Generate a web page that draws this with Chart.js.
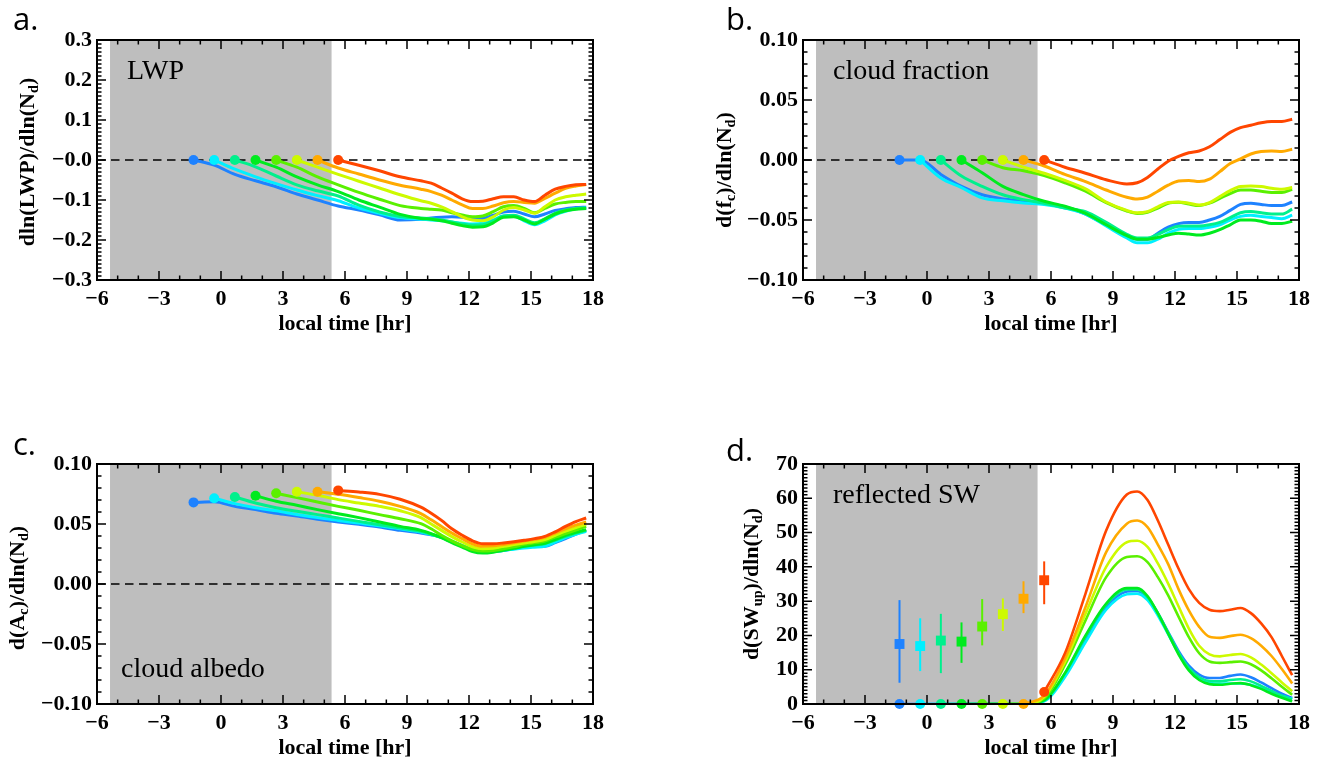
<!DOCTYPE html>
<html lang="en">
<head>
<meta charset="UTF-8">
<title>Diurnal cloud susceptibilities</title>
<script src="https://cdn.jsdelivr.net/npm/chart.js"></script>
<style>
  * { margin: 0; padding: 0; box-sizing: border-box; }
  body { width: 1323px; height: 763px; background: #fff; position: relative; overflow: hidden; }
  canvas { position: absolute; }
  .letter { position: absolute; font-family: 'Open Sans', sans-serif; font-size: 31px; line-height: normal; color: #000; }
  .inset { position: absolute; font-family: 'Liberation Serif', 'Times New Roman', serif; font-size: 28px; line-height: normal; white-space: nowrap; color: #000; }
  .ytitle { position: absolute; font-family: 'Liberation Serif', 'Times New Roman', serif; font-weight: bold; font-size: 22px;
            line-height: 1; white-space: nowrap; transform: translate(-50%, -50%) rotate(-90deg); color: #000; }
  .ytitle sub { font-size: 0.65em; vertical-align: -0.3em; line-height: 0; }
</style>
</head>
<body>
  <canvas id="chartA" width="617" height="339" style="left:0;top:0"></canvas>
  <canvas id="chartB" width="617" height="339" style="left:706px;top:0"></canvas>
  <canvas id="chartC" width="617" height="339" style="left:0;top:424px"></canvas>
  <canvas id="chartD" width="617" height="339" style="left:706px;top:424px"></canvas>

  <div class="letter" style="left:13px;top:-3px">a.</div>
  <div class="letter" style="left:726px;top:-3px">b.</div>
  <div class="letter" style="left:13px;top:422px">c.</div>
  <div class="letter" style="left:726px;top:428px">d.</div>

  <div class="inset" style="left:127px;top:54px">LWP</div>
  <div class="inset" style="left:833px;top:54px">cloud fraction</div>
  <div class="inset" style="left:121px;top:652px">cloud albedo</div>
  <div class="inset" style="left:833px;top:478px">reflected SW</div>

  <div class="ytitle" style="left:27px;top:162px">dln(LWP)/dln(N<sub>d</sub>)</div>
  <div class="ytitle" style="left:724px;top:170px">d(f<sub>c</sub>)/dln(N<sub>d</sub>)</div>
  <div class="ytitle" style="left:17px;top:588px">d(A<sub>c</sub>)/dln(N<sub>d</sub>)</div>
  <div class="ytitle" style="left:751px;top:584px">d(SW<sub>up</sub>)/dln(N<sub>d</sub>)</div>

<script>
// local time grid [hr]; the 8 trajectories start at the first 8 entries
const hours = [-1.33, -0.33, 0.67, 1.67, 2.67, 3.67, 4.67, 5.67, 6.67, 7.67, 8.67, 9.67,
  10.17, 10.67, 11.17, 11.67, 12.17, 12.67, 13.17, 13.67, 14.17, 14.67, 15.17, 15.67, 16.17, 16.67, 17.17, 17.67];
const startHours = [-1.33, -0.33, 0.67, 1.67, 2.67, 3.67, 4.67, 5.67];
const night = [-5.37, 5.35];

const xTicks = [-6, -3, 0, 3, 6, 9, 12, 15, 18];
const xTickLabels = ['−6', '−3', '0', '3', '6', '9', '12', '15', '18'];
const lwpTicks = [-0.3, -0.2, -0.1, 0, 0.1, 0.2, 0.3];
const lwpTickLabels = ['−0.3', '−0.2', '−0.1', '−0.0', '0.1', '0.2', '0.3'];
const fracTicks = [-0.1, -0.05, 0, 0.05, 0.1];
const fracTickLabels = ['−0.10', '−0.05', '0.00', '0.05', '0.10'];
const swTicks = [0, 10, 20, 30, 40, 50, 60, 70];
const swTickLabels = ['0', '10', '20', '30', '40', '50', '60', '70'];

const n = null;
// rows: blue, cyan, spring green, green, lime, yellow-green, orange, red
const lwpRows = [
  [0, -0.013, -0.036, -0.052, -0.067, -0.085, -0.1, -0.115, -0.125, -0.137, -0.15, -0.148, -0.145, -0.143, -0.142, -0.143, -0.147, -0.146, -0.138, -0.13, -0.128, -0.135, -0.142, -0.135, -0.126, -0.122, -0.119, -0.118],
  [n, 0, -0.023, -0.042, -0.059, -0.075, -0.089, -0.102, -0.12, -0.133, -0.144, -0.148, -0.15, -0.152, -0.155, -0.158, -0.16, -0.158, -0.15, -0.14, -0.14, -0.152, -0.162, -0.152, -0.137, -0.128, -0.122, -0.12],
  [n, n, 0, -0.017, -0.04, -0.062, -0.077, -0.09, -0.113, -0.13, -0.141, -0.145, -0.147, -0.15, -0.155, -0.16, -0.163, -0.162, -0.152, -0.14, -0.138, -0.147, -0.157, -0.147, -0.133, -0.125, -0.121, -0.12],
  [n, n, n, 0, -0.018, -0.042, -0.062, -0.079, -0.1, -0.118, -0.136, -0.146, -0.148, -0.152, -0.158, -0.164, -0.168, -0.167, -0.157, -0.143, -0.142, -0.15, -0.16, -0.148, -0.135, -0.127, -0.123, -0.121],
  [n, n, n, n, 0, -0.018, -0.042, -0.062, -0.081, -0.098, -0.114, -0.121, -0.123, -0.125, -0.132, -0.1375, -0.142, -0.14, -0.129, -0.117, -0.114, -0.121, -0.132, -0.121, -0.11, -0.106, -0.104, -0.104],
  [n, n, n, n, n, 0, -0.018, -0.036, -0.053, -0.07, -0.087, -0.102, -0.108, -0.117, -0.129, -0.142, -0.15, -0.152, -0.142, -0.125, -0.119, -0.125, -0.133, -0.117, -0.1, -0.092, -0.088, -0.085],
  [n, n, n, n, n, n, 0, -0.02, -0.035, -0.05, -0.063, -0.073, -0.079, -0.088, -0.1, -0.112, -0.121, -0.121, -0.115, -0.107, -0.104, -0.106, -0.108, -0.096, -0.083, -0.071, -0.065, -0.061],
  [n, n, n, n, n, n, n, 0, -0.013, -0.027, -0.042, -0.052, -0.058, -0.07, -0.083, -0.097, -0.104, -0.103, -0.097, -0.092, -0.092, -0.1, -0.104, -0.088, -0.073, -0.066, -0.062, -0.061]
];
const fracRows = [
  [0, 0, -0.012, -0.022, -0.029, -0.0324, -0.034, -0.036, -0.039, -0.045, -0.054, -0.063, -0.066, -0.066, -0.061, -0.056, -0.053, -0.052, -0.052, -0.05, -0.047, -0.042, -0.037, -0.036, -0.037, -0.038, -0.038, -0.035],
  [n, 0, -0.015, -0.023, -0.0316, -0.034, -0.0358, -0.037, -0.04, -0.045, -0.055, -0.065, -0.069, -0.069, -0.066, -0.061, -0.0578, -0.057, -0.057, -0.056, -0.054, -0.05, -0.047, -0.046, -0.047, -0.048, -0.049, -0.046],
  [n, n, 0, -0.0134, -0.022, -0.029, -0.033, -0.036, -0.04, -0.043, -0.052, -0.062, -0.065, -0.065, -0.062, -0.058, -0.0553, -0.055, -0.055, -0.054, -0.052, -0.048, -0.044, -0.043, -0.044, -0.045, -0.045, -0.041],
  [n, n, n, 0, -0.0106, -0.022, -0.0288, -0.0344, -0.0385, -0.0445, -0.054, -0.063, -0.066, -0.066, -0.0645, -0.0625, -0.061, -0.0617, -0.0625, -0.061, -0.058, -0.054, -0.05, -0.05, -0.051, -0.053, -0.053, -0.051],
  [n, n, n, n, 0, -0.0064, -0.009, -0.013, -0.019, -0.026, -0.0355, -0.0425, -0.0445, -0.0435, -0.04, -0.036, -0.0353, -0.0367, -0.038, -0.036, -0.032, -0.028, -0.025, -0.025, -0.026, -0.027, -0.027, -0.0245],
  [n, n, n, n, n, 0, -0.006, -0.011, -0.017, -0.024, -0.035, -0.042, -0.044, -0.043, -0.039, -0.0355, -0.035, -0.036, -0.0375, -0.0355, -0.0305, -0.0255, -0.022, -0.0217, -0.022, -0.0236, -0.0244, -0.023],
  [n, n, n, n, n, n, 0, -0.005, -0.012, -0.018, -0.025, -0.031, -0.0325, -0.031, -0.026, -0.021, -0.0175, -0.017, -0.018, -0.016, -0.0097, -0.003, 0.001, 0.005, 0.007, 0.0075, 0.007, 0.009],
  [n, n, n, n, n, n, n, 0, -0.006, -0.011, -0.0165, -0.02, -0.019, -0.0145, -0.0075, -0.001, 0.003, 0.006, 0.0075, 0.011, 0.017, 0.023, 0.027, 0.029, 0.031, 0.032, 0.032, 0.034]
];
const albedoRows = [
  [0.068, 0.0685, 0.0647, 0.062, 0.059, 0.0567, 0.054, 0.0517, 0.0497, 0.0475, 0.0447, 0.0425, 0.041, 0.039, 0.0355, 0.032, 0.0285, 0.0267, 0.0272, 0.028, 0.0295, 0.031, 0.0312, 0.0314, 0.0345, 0.0378, 0.0415, 0.0447],
  [n, 0.0715, 0.067, 0.0636, 0.061, 0.058, 0.0553, 0.053, 0.0508, 0.0486, 0.046, 0.0433, 0.0413, 0.039, 0.0355, 0.032, 0.0288, 0.0272, 0.0274, 0.028, 0.029, 0.03, 0.0307, 0.0314, 0.035, 0.0386, 0.0415, 0.0439],
  [n, n, 0.0725, 0.0675, 0.0636, 0.0606, 0.0578, 0.055, 0.0522, 0.0494, 0.0467, 0.0439, 0.0415, 0.0386, 0.035, 0.0314, 0.028, 0.0267, 0.0272, 0.0286, 0.03, 0.0314, 0.0325, 0.0336, 0.0365, 0.0397, 0.0425, 0.0447],
  [n, n, n, 0.0736, 0.069, 0.0656, 0.062, 0.0586, 0.0553, 0.0517, 0.048, 0.0447, 0.042, 0.0386, 0.0345, 0.0308, 0.027, 0.0258, 0.0265, 0.028, 0.0297, 0.0314, 0.0327, 0.034, 0.037, 0.0406, 0.043, 0.0453],
  [n, n, n, n, 0.0756, 0.072, 0.0683, 0.0647, 0.0614, 0.0578, 0.0544, 0.0503, 0.046, 0.0406, 0.036, 0.032, 0.0288, 0.0275, 0.028, 0.0294, 0.031, 0.033, 0.0343, 0.0358, 0.039, 0.042, 0.045, 0.048],
  [n, n, n, n, n, 0.0769, 0.0739, 0.0703, 0.0675, 0.0647, 0.061, 0.0553, 0.05, 0.0447, 0.0395, 0.035, 0.031, 0.0294, 0.0298, 0.0314, 0.0328, 0.0342, 0.0355, 0.037, 0.0405, 0.044, 0.047, 0.0497],
  [n, n, n, n, n, n, 0.0769, 0.0747, 0.072, 0.069, 0.0647, 0.0586, 0.0535, 0.048, 0.0425, 0.0378, 0.0335, 0.0314, 0.0318, 0.033, 0.0343, 0.0358, 0.0372, 0.039, 0.0425, 0.046, 0.049, 0.0517],
  [n, n, n, n, n, n, n, 0.078, 0.0767, 0.0747, 0.0706, 0.064, 0.059, 0.053, 0.046, 0.0406, 0.036, 0.0336, 0.0336, 0.0342, 0.0352, 0.0364, 0.0378, 0.0397, 0.0435, 0.048, 0.052, 0.055]
];
const swRows = [
  [0, 0, 0, 0, 0, 0, 0, 0.9, 8.3, 18.8, 28.3, 32.8, 33.0, 31.0, 26.5, 21.0, 15.5, 11.2, 8.6, 7.6, 7.6, 8.2, 8.6, 7.8, 6.3, 4.6, 3.0, 1.75],
  [n, 0, 0, 0, 0, 0, 0, 0.8, 7.8, 18.0, 27.5, 32.0, 32.2, 30.3, 25.8, 20.3, 14.8, 10.3, 7.5, 6.2, 5.9, 6.0, 6.0, 5.6, 4.6, 3.4, 2.3, 1.5],
  [n, n, 0, 0, 0, 0, 0, 1.0, 8.8, 19.6, 29.0, 33.4, 33.4, 31.2, 26.5, 20.8, 15.0, 10.5, 7.8, 6.7, 6.6, 7.0, 7.2, 6.6, 5.3, 3.8, 2.4, 1.3],
  [n, n, n, 0, 0, 0, 0, 1.1, 9.0, 20.0, 29.3, 33.8, 33.8, 31.5, 26.5, 20.5, 14.5, 9.8, 7.0, 5.8, 5.6, 5.9, 6.1, 5.5, 4.4, 3.0, 1.8, 0.8],
  [n, n, n, n, 0, 0, 0, 1.6, 11.3, 24.4, 37.0, 42.9, 43.1, 41.4, 37.0, 31.7, 25.5, 19.5, 14.8, 12.4, 12.0, 12.2, 12.4, 11.6, 9.8, 7.5, 5.0, 2.7],
  [n, n, n, n, n, 0, 0, 2.0, 12.2, 26.3, 40.0, 47.2, 47.6, 45.8, 41.0, 35.1, 28.5, 22.0, 17.0, 14.5, 13.9, 14.3, 14.6, 13.6, 11.5, 9.0, 6.3, 3.7],
  [n, n, n, n, n, n, 0, 2.5, 13.2, 28.3, 44.3, 52.6, 53.5, 51.6, 46.5, 40.8, 33.5, 27.3, 22.5, 19.6, 19.3, 19.8, 20.2, 19.2, 17.0, 14.0, 10.2, 6.0],
  [n, n, n, n, n, n, n, 3.5, 14.7, 32.2, 50.6, 61.1, 62.0, 59.5, 53.5, 46.5, 39.5, 33.5, 29.5, 27.5, 27.1, 27.5, 28.0, 26.5, 23.5, 19.5, 14.0, 8.4]
];
// night-time estimates of reflected SW with error bars (panel d)
const swMean = [17.5, 16.9, 18.5, 18.2, 22.6, 26.2, 30.7, 36.1];
const swLow = [6.2, 9.6, 9.0, 12.0, 17.1, 21.3, 26.5, 29.1];
const swHigh = [30.3, 25.0, 26.3, 23.8, 30.6, 30.8, 35.8, 41.6];

const colors = ['#1e82ff', '#00f0ff', '#00f08c', '#00eb1e', '#5af000', '#cdfa00', '#ffaa00', '#ff4600'];

const serif = "'Liberation Serif', 'Times New Roman', serif";
Chart.defaults.color = '#000';

// gray night band, dashed zero line, error bars, then box with inward ticks
const framePlugin = {
  id: 'frame',
  beforeDatasetsDraw(chart, args, opts) {
    const { ctx, chartArea: a, scales: { x, y } } = chart;
    ctx.save();
    const x0 = x.getPixelForValue(night[0]), x1 = x.getPixelForValue(night[1]);
    ctx.fillStyle = '#bebebe';
    ctx.fillRect(x0, a.top, x1 - x0, a.bottom - a.top);
    if (opts.zeroLine) {
      const yz = y.getPixelForValue(0);
      ctx.strokeStyle = '#000';
      ctx.lineWidth = 1.5;
      ctx.setLineDash([8.5, 5.5]);
      ctx.beginPath();
      ctx.moveTo(a.left, yz);
      ctx.lineTo(a.right, yz);
      ctx.stroke();
      ctx.setLineDash([]);
    }
    if (opts.errorBars) {
      ctx.lineWidth = 2;
      startHours.forEach((h, i) => {
        const px = x.getPixelForValue(h);
        ctx.strokeStyle = colors[i];
        ctx.beginPath();
        ctx.moveTo(px, y.getPixelForValue(swLow[i]));
        ctx.lineTo(px, y.getPixelForValue(swHigh[i]));
        ctx.stroke();
      });
    }
    ctx.restore();
  },
  afterDatasetsDraw(chart, args, opts) {
    const { ctx, chartArea: a, scales: { x, y } } = chart;
    ctx.save();
    ctx.strokeStyle = '#000';
    ctx.lineWidth = 1.5;
    const majLen = 9, minLen = 4.5;
    // x ticks every hour, long every 3 hours
    for (let h = -6; h <= 18; h++) {
      const px = x.getPixelForValue(h);
      const len = h % 3 === 0 ? majLen : minLen;
      ctx.beginPath();
      ctx.moveTo(px, a.bottom); ctx.lineTo(px, a.bottom - len);
      ctx.moveTo(px, a.top); ctx.lineTo(px, a.top + len);
      ctx.stroke();
    }
    const steps = Math.round((y.max - y.min) / opts.yMinor);
    for (let i = 0; i <= steps; i++) {
      const v = y.min + i * opts.yMinor;
      const r = v / opts.yMajor;
      const len = Math.abs(r - Math.round(r)) < 1e-6 ? majLen : minLen;
      const py = y.getPixelForValue(v);
      ctx.beginPath();
      ctx.moveTo(a.left, py); ctx.lineTo(a.left + len, py);
      ctx.moveTo(a.right, py); ctx.lineTo(a.right - len, py);
      ctx.stroke();
    }
    ctx.lineWidth = 2;
    ctx.strokeRect(a.left, a.top, a.right - a.left, a.bottom - a.top);
    ctx.restore();
  }
};

function curve(row, color, width) {
  const pts = [];
  row.forEach((v, i) => { if (v !== null) pts.push({ x: hours[i], y: v }); });
  return { data: pts, borderColor: color, borderWidth: width, pointRadius: 0,
           cubicInterpolationMode: 'monotone', fill: false };
}

function startDots(rows) {
  const pts = rows.map(row => {
    const i = row.findIndex(v => v !== null);
    return { x: hours[i], y: row[i] };
  });
  return { data: pts, showLine: false, pointRadius: 5, pointBorderWidth: 0,
           pointBackgroundColor: colors, pointBorderColor: colors, clip: false };
}

function makeChart(id, rows, yMin, yMax, yTicks, yTickLabels, yMajor, yMinor, lineWidth, extra) {
  const datasets = [];
  if (extra.squares) {
    datasets.push({
      data: startHours.map((h, i) => ({ x: h, y: swMean[i] })),
      showLine: false, pointStyle: 'rect', pointRadius: 7, pointBorderWidth: 0,
      pointBackgroundColor: colors, pointBorderColor: colors, clip: false
    });
  }
  datasets.push(startDots(rows));
  for (let k = rows.length - 1; k >= 0; k--) datasets.push(curve(rows[k], colors[k], lineWidth));

  return new Chart(document.getElementById(id), {
    type: 'line',
    data: { datasets },
    plugins: [framePlugin],
    options: {
      responsive: false,
      devicePixelRatio: 1,
      animation: false,
      events: [],
      layout: { padding: { top: 40, right: 24, left: 0, bottom: 0 } },
      plugins: {
        legend: { display: false },
        tooltip: { enabled: false },
        frame: { zeroLine: extra.zeroLine, errorBars: !!extra.squares, yMajor, yMinor }
      },
      scales: {
        x: {
          type: 'linear', min: -6, max: 18,
          grid: { display: false, drawTicks: false },
          border: { display: false },
          afterBuildTicks: s => { s.ticks = xTicks.map(v => ({ value: v })); },
          afterFit: s => { s.height = 59; },
          ticks: {
            autoSkip: false, maxRotation: 0, padding: 6,
            font: { family: serif, size: 22, weight: 'bold' },
            callback: v => xTickLabels[xTicks.indexOf(v)]
          },
          title: {
            display: true, text: 'local time [hr]',
            font: { family: serif, size: 22, weight: 'bold' },
            padding: { top: 0, bottom: 1 }
          }
        },
        y: {
          type: 'linear', min: yMin, max: yMax,
          grid: { display: false, drawTicks: false },
          border: { display: false },
          afterBuildTicks: s => { s.ticks = yTicks.map(v => ({ value: v })); },
          afterFit: s => { s.width = 97; },
          ticks: {
            autoSkip: false, padding: 5,
            font: { family: serif, size: 22, weight: 'bold' },
            callback: v => yTickLabels[yTicks.findIndex(t => Math.abs(t - v) < 1e-9)]
          }
        }
      }
    }
  });
}

makeChart('chartA', lwpRows, -0.3, 0.3, lwpTicks, lwpTickLabels, 0.1, 0.01, 3, { zeroLine: true });
makeChart('chartB', fracRows, -0.1, 0.1, fracTicks, fracTickLabels, 0.05, 0.01, 3, { zeroLine: true });
makeChart('chartC', albedoRows, -0.1, 0.1, fracTicks, fracTickLabels, 0.05, 0.01, 3, { zeroLine: true });
makeChart('chartD', swRows, 0, 70, swTicks, swTickLabels, 10, 1, 2.6, { zeroLine: false, squares: true });
</script>
</body>
</html>
